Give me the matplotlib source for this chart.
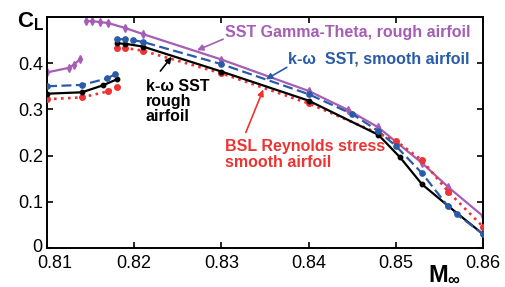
import matplotlib
matplotlib.use("Agg")
import matplotlib.pyplot as plt
import matplotlib.transforms as mtransforms

# ─── data ────────────────────────────────────────────────────────────────────
# SST Gamma-Theta, rough airfoil
gt_low_M = [0.8100, 0.8125, 0.8131, 0.8138]
gt_low_CL = [0.380, 0.390, 0.397, 0.409]
gt_high_M = [0.8145, 0.8152, 0.8161, 0.8170, 0.8190, 0.8210, 0.8300,
             0.8400, 0.8445, 0.8480, 0.8530, 0.8560, 0.8600]
gt_high_CL = [0.491, 0.491, 0.489, 0.487, 0.476, 0.463, 0.408,
              0.340, 0.299, 0.261, 0.184, 0.132, 0.069]

# k-omega SST, smooth airfoil
sst_s_low_M = [0.8100, 0.8140, 0.8169, 0.8178]
sst_s_low_CL = [0.350, 0.353, 0.367, 0.376]
sst_s_high_M = [0.8180, 0.8190, 0.8199, 0.8210, 0.8300, 0.8400, 0.8450,
                0.8480, 0.8500, 0.8530, 0.8560, 0.8570, 0.8600]
sst_s_high_CL = [0.452, 0.452, 0.450, 0.446, 0.398, 0.333, 0.290,
                 0.253, 0.221, 0.162, 0.090, 0.073, 0.030]

# k-omega SST, rough airfoil
sst_r_low_M = [0.8100, 0.8140, 0.8164, 0.8180]
sst_r_low_CL = [0.334, 0.337, 0.352, 0.365]
sst_r_high_M = [0.8180, 0.8190, 0.8210, 0.8300, 0.8400, 0.8480, 0.8505,
                0.8530, 0.8560, 0.8600]
sst_r_high_CL = [0.443, 0.442, 0.436, 0.382, 0.319, 0.245, 0.196,
                 0.138, 0.091, 0.030]

# BSL Reynolds stress, smooth airfoil
bsl_low_M = [0.8100, 0.8140, 0.8170, 0.8180]
bsl_low_CL = [0.322, 0.326, 0.339, 0.349]
bsl_high_M = [0.8180, 0.8190, 0.8210, 0.8300, 0.8400, 0.8500, 0.8530,
              0.8560, 0.8600]
bsl_high_CL = [0.433, 0.433, 0.427, 0.378, 0.313, 0.232, 0.190,
               0.122, 0.046]

x_ticks = [0.81, 0.82, 0.83, 0.84, 0.85, 0.86]
y_ticks = [0, 0.1, 0.2, 0.3, 0.4]

PURPLE = "#a55db5"
BLUE = "#2a5ba8"
RED = "#ee3333"
BLACK = "#000000"

plt.rcParams["font.family"] = ["Liberation Sans", "DejaVu Sans"]
plt.rcParams["mathtext.fontset"] = "custom"
plt.rcParams["mathtext.rm"] = "Liberation Sans"
plt.rcParams["mathtext.bf"] = "Liberation Sans:bold"

fig = plt.figure(figsize=(5.05, 2.87), dpi=100)
ax = fig.add_axes([47 / 505, 39 / 287, 436 / 505, 231 / 287])

# ─── curves ──────────────────────────────────────────────────────────────────
for M, CL in [(gt_low_M, gt_low_CL), (gt_high_M, gt_high_CL)]:
    ax.plot(M, CL, "-", color=PURPLE, lw=1.6, marker="d", ms=4, zorder=2)
for M, CL in [(bsl_low_M, bsl_low_CL), (bsl_high_M, bsl_high_CL)]:
    ax.plot(M, CL, ":", color=RED, lw=1.9, marker="o", ms=4, zorder=3)
for M, CL in [(sst_r_low_M, sst_r_low_CL), (sst_r_high_M, sst_r_high_CL)]:
    ax.plot(M, CL, "-", color=BLACK, lw=1.6, marker="o", ms=3.2, zorder=4)
for M, CL in [(sst_s_low_M, sst_s_low_CL), (sst_s_high_M, sst_s_high_CL)]:
    ax.plot(M, CL, "--", color=BLUE, lw=1.6, marker="o", ms=3.8, zorder=5,
            dashes=(4.5, 2))

# ─── annotations ─────────────────────────────────────────────────────────────
arrow_kw = dict(arrowstyle="-|>", lw=1.2, mutation_scale=9,
                shrinkA=0, shrinkB=0)

ax.annotate("", xy=(0.8272, 0.428), xytext=(0.8302, 0.452),
            arrowprops=dict(color=PURPLE, **arrow_kw))
ax.text(0.8304, 0.467, "SST Gamma-Theta, rough airfoil", color=PURPLE,
        fontweight="bold", fontsize=11.5, va="center", ha="left")

ax.annotate("", xy=(0.8351, 0.365), xytext=(0.8375, 0.391),
            arrowprops=dict(color=BLUE, **arrow_kw))
ax.text(0.8376, 0.409, "k-\u03c9  SST, smooth airfoil", color=BLUE,
        fontweight="bold", fontsize=11.5, va="center", ha="left")

ax.annotate("", xy=(0.8243, 0.414), xytext=(0.8230, 0.383),
            arrowprops=dict(color=BLACK, **arrow_kw))
ax.text(0.8213, 0.318, "k-\u03c9 SST\nrough\nairfoil", color=BLACK,
        fontweight="bold", fontsize=11.5, va="center", ha="left",
        linespacing=1.0)

ax.annotate("", xy=(0.8348, 0.343), xytext=(0.8328, 0.250),
            arrowprops=dict(color=RED, **arrow_kw))
ax.text(0.8304, 0.202, "BSL Reynolds stress\nsmooth airfoil", color=RED,
        fontweight="bold", fontsize=11.5, va="center", ha="left",
        linespacing=1.1)

# ─── axes cosmetics ──────────────────────────────────────────────────────────
ax.set_xlim(0.81, 0.86)
ax.set_ylim(0, 0.5)
ax.set_xticks(x_ticks)
ax.set_xticklabels([f"{v:.2f}" for v in x_ticks])
ax.set_yticks(y_ticks)
ax.set_yticklabels(["0"] + [f"{v:.1f}" for v in y_ticks[1:]])
ax.tick_params(direction="in", top=True, right=True, length=4, width=1.2,
               labelsize=13)
ax.tick_params(axis="x", pad=5)
ax.tick_params(axis="y", pad=3)
for s in ax.spines.values():
    s.set_linewidth(1.4)

# first x label sits a bit right of its tick, "0" a bit higher, as in the original
first = ax.get_xticklabels()[0]
first.set_transform(first.get_transform() +
                    mtransforms.ScaledTranslation(8 / 100, 0, fig.dpi_scale_trans))
zero = ax.get_yticklabels()[0]
zero.set_transform(zero.get_transform() +
                   mtransforms.ScaledTranslation(0, 3 / 100, fig.dpi_scale_trans))

fig.text(17 / 505, 1 - 22 / 287, r"$\mathbf{C_L}$", fontsize=16,
         ha="left", va="center")
fig.text(445 / 505, 1 - 275 / 287, r"$\mathbf{M_{\infty}}$", fontsize=17,
         ha="center", va="center")

fig.savefig("out.png", dpi=100)
